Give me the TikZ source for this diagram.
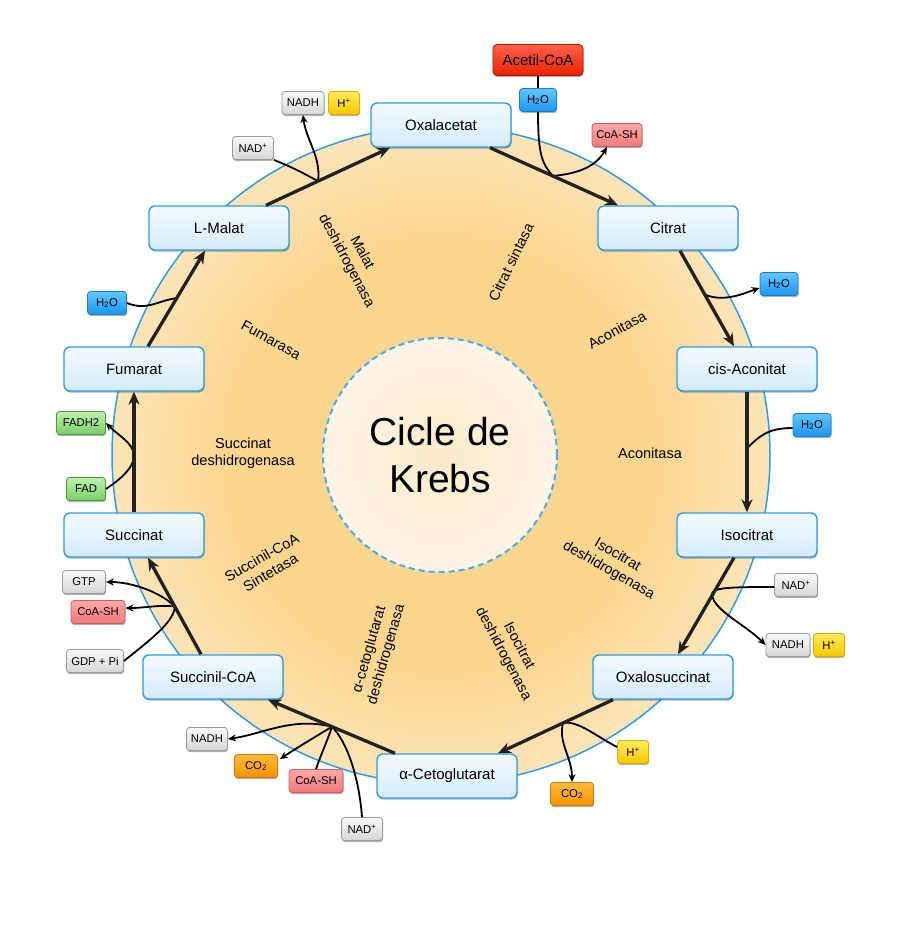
\documentclass[tikz,border=0pt]{standalone}
\usepackage{fontspec}
\setmainfont{Liberation Sans}
\usetikzlibrary{calc,arrows.meta,shadows}
\definecolor{bdblue}{HTML}{2E9CEB}
\definecolor{boxtop}{HTML}{F4FAFF}
\definecolor{boxbot}{HTML}{D5ECFC}
\definecolor{arrowc}{HTML}{222222}
\definecolor{ringA}{HTML}{FBD68E}
\definecolor{ringB}{HTML}{FEF0D8}
\definecolor{innA}{HTML}{FCEACA}
\definecolor{innB}{HTML}{FFFAF3}
\definecolor{gryd}{HTML}{9A9A9A}\definecolor{gryt}{HTML}{FAFAFA}\definecolor{gryb}{HTML}{D6D6D6}
\definecolor{yeld}{HTML}{D4AE00}\definecolor{yelt}{HTML}{FFEC5C}\definecolor{yelb}{HTML}{F7C800}
\definecolor{blud}{HTML}{1B7ED0}\definecolor{blut}{HTML}{63C6FF}\definecolor{blub}{HTML}{1A96F0}
\definecolor{pnkd}{HTML}{CC6060}\definecolor{pnkt}{HTML}{FFA8A8}\definecolor{pnkb}{HTML}{F07A7A}
\definecolor{ord}{HTML}{CF7A00}\definecolor{ort}{HTML}{FFBC3A}\definecolor{orb}{HTML}{F59200}
\definecolor{grnd}{HTML}{4C9A3C}\definecolor{grnt}{HTML}{C0F2B0}\definecolor{grnb}{HTML}{78CE68}
\definecolor{redd}{HTML}{B01200}\definecolor{redt}{HTML}{FF6048}\definecolor{redb}{HTML}{EC2200}
\pgfdeclareradialshading{ringshade}{\pgfpoint{0bp}{0bp}}{color(0bp)=(ringA); color(16bp)=(ringA); color(32bp)=(ringB); color(50bp)=(ringB)}
\pgfdeclareradialshading{innshade}{\pgfpoint{0bp}{0bp}}{color(0bp)=(innA); color(35bp)=(innB); color(50bp)=(innB)}
\begin{document}
\begin{tikzpicture}[x=1pt,y=-1pt,
  shad/.style={drop shadow={shadow xshift=0.6pt,shadow yshift=-1.6pt,opacity=0.3,fill=black}},
  met/.style={draw=bdblue,line width=1.4pt,rounded corners=6pt,top color=boxtop,bottom color=boxbot,
    minimum width=140pt,minimum height=44pt,inner sep=0pt,font=\fontsize{15}{18}\selectfont,shad},
  sm/.style={rounded corners=3pt,line width=0.8pt,minimum height=23pt,inner sep=0pt,
    font=\fontsize{11.3}{13}\selectfont,shad},
  gry/.style={sm,draw=gryd,top color=gryt,bottom color=gryb},
  yel/.style={sm,draw=yeld,top color=yelt,bottom color=yelb},
  blu/.style={sm,draw=blud,top color=blut,bottom color=blub},
  pnk/.style={sm,draw=pnkd,top color=pnkt,bottom color=pnkb},
  org/.style={sm,draw=ord,top color=ort,bottom color=orb},
  grn/.style={sm,draw=grnd,top color=grnt,bottom color=grnb},
  redbox/.style={sm,draw=redd,top color=redt,bottom color=redb,rounded corners=4pt,
    minimum height=31pt,font=\fontsize{15}{18}\selectfont},
  enz/.style={font=\fontsize{14.5}{17.5}\selectfont,align=center},
  mainarr/.style={line width=3.3pt,draw=arrowc,-{Stealth[length=13pt,width=11pt]}},
  side/.style={line width=1.8pt,draw=black},
  sidearr/.style={side,-{Stealth[length=8pt,width=7pt]}}
]
\useasboundingbox (0,0) rectangle (900,951);
\fill[white] (0,0) rectangle (900,951);
% circles
\shade[shading=ringshade] (441,455) circle (329pt);
\draw[bdblue,line width=1.5pt] (441,455) circle (329pt);
\shade[shading=innshade] (440,455) circle (117pt);
\draw[color=bdblue!85,line width=2pt,dash pattern=on 6pt off 4pt] (440,455) circle (117pt);
\node[font=\fontsize{39}{47}\selectfont,align=center] (title) at (440,455) {Cicle de\\Krebs};
% enzyme labels
\node[enz,rotate=-62] (e1) at (354,257) {Malat\\deshidrogenasa};
\node[enz,rotate=64] (e2) at (511,262) {Citrat sintasa};
\node[enz,rotate=29] (e3) at (617,330) {Aconitasa};
\node[enz] (e4) at (650,453) {Aconitasa};
\node[enz,rotate=-30] (e5) at (613,563) {Isocitrat\\deshidrogenasa};
\node[enz,rotate=-62] (e6) at (511,650) {Isocitrat\\deshidrogenasa};
\node[enz,rotate=74] (e7) at (378,652) {α-cetoglutarat\\deshidrogenasa};
\node[enz,rotate=30] (e8) at (266,565) {Succinil-CoA\\Sintetasa};
\node[enz] (e9) at (243,453) {Succinat\\deshidrogenasa};
\node[enz,rotate=-29] (e10) at (271,340) {Fumarasa};
% metabolites
\node[met] (Ox) at (441,125) {Oxalacetat};
\node[met] (Cit) at (668,228) {Citrat};
\node[met] (cisA) at (747,369) {cis-Aconitat};
\node[met] (Iso) at (747,535) {Isocitrat};
\node[met] (Oxs) at (663,677) {Oxalosuccinat};
\node[met] (aKG) at (447,776) {α-Cetoglutarat};
\node[met] (SCoA) at (213,677) {Succinil-CoA};
\node[met] (Succ) at (134,535) {Succinat};
\node[met] (Fum) at (134,369) {Fumarat};
\node[met] (Mal) at (219,228) {L-Malat};
% small boxes
\node[redbox,minimum width=90pt] (acetil) at (538,60) {Acetil-CoA};
\node[blu,minimum width=37pt] (h2oA) at (538,100) {H\textsubscript{2}O};
\node[pnk,minimum width=50pt] (coashA) at (617,135) {CoA-SH};
\node[gry,minimum width=42pt] (nadhA) at (303,103) {NADH};
\node[yel,minimum width=31pt] (hA) at (344,103) {H\textsuperscript{+}};
\node[gry,minimum width=41pt] (nadA) at (253,148) {NAD\textsuperscript{+}};
\node[blu,minimum width=38pt] (h2oB) at (779,284) {H\textsubscript{2}O};
\node[blu,minimum width=38pt] (h2oC) at (812,425) {H\textsubscript{2}O};
\node[gry,minimum width=43pt] (nadB) at (796,585) {NAD\textsuperscript{+}};
\node[gry,minimum width=44pt] (nadhB) at (788,645) {NADH};
\node[yel,minimum width=31pt] (hB) at (829,645) {H\textsuperscript{+}};
\node[yel,minimum width=31pt] (hC) at (633,752) {H\textsuperscript{+}};
\node[org,minimum width=43pt] (co2C) at (572,794) {CO\textsubscript{2}};
\node[gry,minimum width=41pt] (nadD) at (362,829) {NAD\textsuperscript{+}};
\node[gry,minimum width=41pt] (nadhD) at (207,739) {NADH};
\node[org,minimum width=43pt] (co2D) at (256,766) {CO\textsubscript{2}};
\node[pnk,minimum width=54pt] (coashD) at (316,781) {CoA-SH};
\node[gry,minimum width=43pt] (gtp) at (84,582) {GTP};
\node[pnk,minimum width=54pt] (coashE) at (98,612) {CoA-SH};
\node[gry,minimum width=57pt] (gdp) at (95,661) {GDP + Pi};
\node[blu,minimum width=39pt] (h2oE) at (107,303) {H\textsubscript{2}O};
\node[grn,minimum width=49pt] (fadh2) at (81,423) {FADH2};
\node[grn,minimum width=39pt] (fad) at (86,489) {FAD};
% main arrow endpoints
\coordinate (s1) at ($(Mal.north)+(47,0)$);  \coordinate (t1) at ($(Ox.south)+(-51,0)$);
\coordinate (s2) at ($(Ox.south)+(49,0)$);   \coordinate (t2) at ($(Cit.north)+(-50,0)$);
\coordinate (s3) at ($(Cit.south)+(12,0)$);  \coordinate (t3) at ($(cisA.north)+(-13,0)$);
\coordinate (s4) at (cisA.south);            \coordinate (t4) at (Iso.north);
\coordinate (s5) at ($(Iso.south)+(-13,0)$); \coordinate (t5) at ($(Oxs.north)+(15,0)$);
\coordinate (s6) at ($(Oxs.south)+(-50,0)$); \coordinate (t6) at ($(aKG.north)+(51,0)$);
\coordinate (s7) at ($(aKG.north)+(-52,0)$); \coordinate (t7) at ($(SCoA.south)+(55,0)$);
\coordinate (s8) at ($(SCoA.north)+(-12,0)$);\coordinate (t8) at ($(Succ.south)+(14,0)$);
\coordinate (s9) at (Succ.north);            \coordinate (t9) at (Fum.south);
\coordinate (s10) at ($(Fum.north)+(14,0)$); \coordinate (t10) at ($(Mal.south)+(-14,0)$);
% junctions
\coordinate (j1) at ($(s1)!0.42!(t1)$);
\coordinate (j2) at ($(s2)!0.49!(t2)$);
\coordinate (j3) at ($(s3)!0.46!(t3)$);
\coordinate (j4) at ($(s4)!0.47!(t4)$);
\coordinate (j5) at ($(s5)!0.39!(t5)$);
\coordinate (j6) at ($(s6)!0.435!(t6)$);
\coordinate (j7) at ($(s7)!0.496!(t7)$);
\coordinate (j8) at ($(s8)!0.495!(t8)$);
\coordinate (j9) at ($(s9)!0.47!(t9)$);
\coordinate (j10) at ($(s10)!0.505!(t10)$);
% side branches
\draw[side] (nadA.south east) .. controls +(20,8) and +(-15,-8) .. (j1);
\draw[sidearr] (j1) .. controls +(3,-25) and +(3,25) .. (nadhA.south);
\draw[side] (acetil.south) -- (h2oA.north);
\draw[side] (h2oA.south) .. controls +(0,45) and +(-10,-12) .. (j2);
\draw[sidearr] (j2) .. controls +(35,-3) and +(-8,14) .. ($(coashA.south)+(-10,0)$);
\draw[sidearr] (j3) .. controls +(20,8) and +(-15,5) .. ($(h2oB.west)+(0,4)$);
\draw[side] ($(h2oC.west)+(0,3)$) .. controls +(-25,0) and +(12,-12) .. (j4);
\draw[side] ($(nadB.west)+(0,2)$) .. controls +(-45,0) and +(-2,-8) .. (j5);
\draw[sidearr] (j5) .. controls +(2,15) and +(-20,-20) .. (nadhB.west);
\draw[side] (j6) .. controls +(15,-3) and +(-20,-10) .. ($(hC.west)+(0,-5)$);
\draw[sidearr] (j6) .. controls +(-5,20) and +(0,-25) .. (co2C.north);
\draw[sidearr] (j7) .. controls +(-40,-10) and +(35,-5) .. (nadhD.east);
\draw[sidearr] (j7) .. controls +(-20,12) and +(15,-10) .. ($(co2D.north east)+(2,5)$);
\draw[side] (coashD.north) .. controls +(5,-15) and +(-3,10) .. (j7);
\draw[side] (nadD.north) .. controls +(-3,-40) and +(15,15) .. (j7);
\draw[sidearr] (j8) .. controls +(-15,-15) and +(25,0) .. (gtp.east);
\draw[sidearr] (j8) .. controls +(-15,-2) and +(20,0) .. ($(coashE.east)+(0,-4)$);
\draw[side] (gdp.east) .. controls +(25,-20) and +(0,15) .. (j8);
\draw[side] (fad.east) .. controls +(15,-10) and +(0,12) .. (j9);
\draw[sidearr] (j9) .. controls +(0,-12) and +(12,12) .. (fadh2.east);
\draw[side] (h2oE.east) .. controls +(20,8) and +(-20,3) .. (j10);
% main arrows
\foreach \i in {1,...,10} {\draw[mainarr] (s\i) -- (t\i);}
\end{tikzpicture}
\end{document}
